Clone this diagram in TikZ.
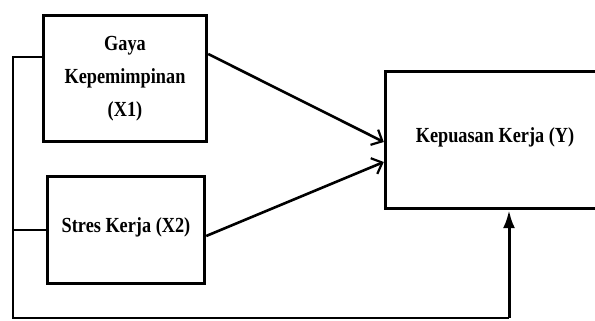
\documentclass[tikz,border=0pt]{standalone}
\usepackage{fontspec}
\setmainfont{Liberation Serif}[FakeStretch=0.85]
\usetikzlibrary{arrows.meta}
\begin{document}
\begin{tikzpicture}[x=1pt,y=1pt,
  boxstyle/.style={draw, line width=3.4pt, rectangle, inner sep=0pt, align=center,
    font=\fontsize{21.5}{33}\selectfont\bfseries},
  link/.style={line width=2.6pt},
  barb/.style={link, -{Straight Barb[length=9pt,width=17pt,line width=2.2pt]}},
  feed/.style={line width=3pt, -{Latex[length=18pt,width=12pt]}}
]
\useasboundingbox (0,0) rectangle (595,321);
\clip (0,0) rectangle (595,321);
\node[boxstyle, minimum width=163pt, minimum height=126pt] (box1) at (125,242.5)
  {Gaya\\Kepemimpinan\\(X1)};
\node[boxstyle, minimum width=157pt, minimum height=107pt] (box2) at (126,91)
  {\raisebox{10pt}{Stres Kerja (X2)}};
\node[boxstyle, minimum width=219pt, minimum height=137pt] (boxy) at (495,181)
  {\raisebox{10pt}{Kepuasan Kerja (Y)}};
\coordinate (tl) at (13,264);
\coordinate (ml) at (13,91);
\coordinate (bl) at (13,3);
\coordinate (br) at (509,3);
\draw[barb] ([yshift=24.5pt]box1.east) -- ([yshift=-2pt]boxy.west);
\draw[barb] ([yshift=-6pt]box2.east) -- ([yshift=-22pt]boxy.west);
\draw[link] (box1.west |- tl) -- (tl) -- (bl) -- (br);
\draw[link] (box2.west |- ml) -- (ml);
\draw[feed] (br) -- (boxy.south -| br);
\end{tikzpicture}
\end{document}
